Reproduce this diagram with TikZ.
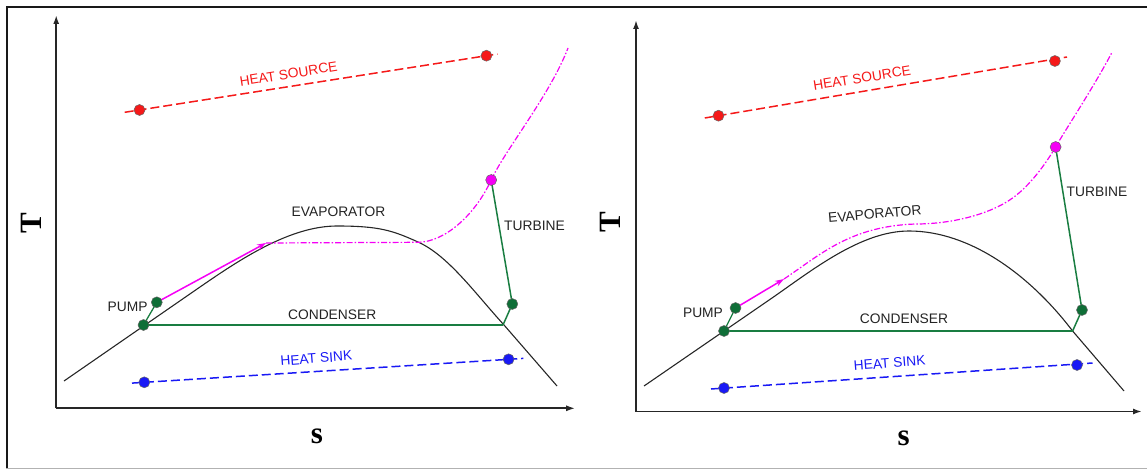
\documentclass[tikz,border=0pt]{standalone}
\usepackage{fontspec}
\setmainfont{Liberation Serif}
\setsansfont{Liberation Sans}
\usetikzlibrary{arrows.meta}
\definecolor{CycleGreen}{RGB}{25,125,65}
\definecolor{DotGreen}{RGB}{15,110,55}
\definecolor{SourceRed}{RGB}{245,25,25}
\definecolor{SinkBlue}{RGB}{25,25,245}
\definecolor{Vapour}{RGB}{245,0,245}
\definecolor{LabelGray}{RGB}{35,35,35}

\begin{document}
\begin{tikzpicture}[
    x=1pt, y=-1pt,
    axis/.style={line width=1.7pt, draw=black!85, -{Latex[length=9pt,width=6pt]}},
    dome/.style={line width=1.1pt, draw=black!85},
    cycle/.style={line width=1.5pt, draw=CycleGreen},
    condenser/.style={line width=2.3pt, draw=CycleGreen},
    vapour/.style={line width=1.2pt, draw=Vapour, dash pattern=on 6pt off 2pt on 1.5pt off 2pt},
    pumped/.style={line width=1.5pt, draw=Vapour, -{Stealth[length=9pt,width=6pt]}},
    source/.style={line width=1.5pt, draw=SourceRed, dash pattern=on 9pt off 4pt},
    sink/.style={line width=1.5pt, draw=SinkBlue, dash pattern=on 9pt off 4pt},
    state/.style={circle, draw=black!60, line width=0.5pt, minimum size=11pt, inner sep=0pt},
    lbl/.style={font=\sffamily\fontsize{13.8}{16}\selectfont, text=LabelGray},
    axlbl/.style={font=\bfseries\fontsize{31}{31}\selectfont}
]
\useasboundingbox (0,0) rectangle (1147,470);

% Frame
\draw[line width=2.6pt, black!90] (7,468) -- (7,7) -- (1147,7);
\draw[line width=1.3pt, black!30] (6,468.5) -- (1147,468.5);

%%% Left panel
\coordinate (Lo) at (56.2,408.3);
\coordinate (Ly) at (56.2,15);
\coordinate (Lx) at (575.2,408.3);
\draw[axis] (Lo) -- (Ly);
\draw[axis] (Lo) -- (Lx);
\node[axlbl, rotate=90] (LT) at (31.4,223.3) {T};
\node[axlbl] (Ls) at (317,436) {s};

% Saturation dome
\draw[dome] (64,381) -- (200,287) .. controls (240,259.4) and (290,226) .. (337,226)
    .. controls (380,226) and (393,230.75) .. (418,242)
    .. controls (448,255.5) and (474,292) .. (504,325) -- (557,386);

% Cycle states
\coordinate (L1) at (143.5,325);
\coordinate (L2) at (156.8,302.3);
\coordinate (L3) at (266,243);
\coordinate (L4) at (418,242.3);
\coordinate (L5) at (491.2,180);
\coordinate (L6) at (512.3,304);
\coordinate (L7) at (503,325);

\draw[vapour] (L3) -- (L4) .. controls (445,242) and (475,215) .. (L5)
    .. controls (505,150) and (550,95) .. (568,48);
\draw[pumped] (L2) -- (L3);
\draw[cycle, line width=1.3pt] (L1) -- (L2);
\draw[cycle] (L5) -- (L6) -- (L7);
\draw[condenser] (L1) -- (L7);

\node[state, fill=DotGreen] (L1dot) at (L1) {};
\node[state, fill=DotGreen] (L2dot) at (L2) {};
\node[state, fill=Vapour] (L5dot) at (L5) {};
\node[state, fill=DotGreen] (L6dot) at (L6) {};

% Heat source and sink
\coordinate (LsrcA) at (124.7,112.3);
\coordinate (LsrcB) at (497.5,54);
\draw[source] (LsrcA) -- (LsrcB);
\node[state, fill=SourceRed] (Lsrc1) at (139.5,110) {};
\node[state, fill=SourceRed] (Lsrc2) at (486.4,55.7) {};
\coordinate (LsnkA) at (132,383.1);
\coordinate (LsnkB) at (523.4,358.4);
\draw[sink] (LsnkA) -- (LsnkB);
\node[state, fill=SinkBlue] (Lsnk1) at (144.3,382.3) {};
\node[state, fill=SinkBlue] (Lsnk2) at (508.6,359.3) {};

% Labels
\node[lbl, text=SourceRed, rotate=9] at (288.5,74) {HEAT SOURCE};
\node[lbl] at (338.5,211.7) {EVAPORATOR};
\node[lbl] at (534.5,225.7) {TURBINE};
\node[lbl] at (127.6,307.3) {PUMP};
\node[lbl] at (332.2,315) {CONDENSER};
\node[lbl, text=SinkBlue, rotate=4.5] at (316.3,358.3) {HEAT SINK};

%%% Right panel
\coordinate (Ro) at (636,411.5);
\coordinate (Ry) at (636,20);
\coordinate (Rx) at (1142,411.5);
\draw[axis] (Ro) -- (Ry);
\draw[axis] (Ro) -- (Rx);
\node[axlbl, rotate=90] (RT) at (610.7,221.7) {T};
\node[axlbl] (Rs) at (903.7,438) {s};

% Saturation dome
\draw[dome] (644,386) -- (770,299.4) .. controls (810,271.9) and (860,231) .. (909,231)
    .. controls (970,231) and (1030,275) .. (1072.6,331) -- (1124,391);

% Cycle states
\coordinate (R1) at (724,331);
\coordinate (R2) at (735.5,308);
\coordinate (R3) at (784,279);
\coordinate (R5) at (1055.6,147);
\coordinate (R6) at (1082,310);
\coordinate (R7) at (1072.6,331);

\draw[vapour] (R3) .. controls (820,255) and (850,226) .. (916,224)
    .. controls (950,224) and (990,215) .. (1014,197)
    .. controls (1030,185) and (1045,165) .. (R5)
    .. controls (1064,132) and (1095,85) .. (1111.6,53);
\draw[pumped] (R2) -- (R3);
\draw[cycle, line width=1.3pt] (R1) -- (R2);
\draw[cycle] (R5) -- (R6) -- (R7);
\draw[condenser] (R1) -- (R7);

\node[state, fill=DotGreen] (R1dot) at (R1) {};
\node[state, fill=DotGreen] (R2dot) at (R2) {};
\node[state, fill=Vapour] (R5dot) at (R5) {};
\node[state, fill=DotGreen] (R6dot) at (R6) {};

% Heat source and sink
\coordinate (RsrcA) at (704.8,118);
\coordinate (RsrcB) at (1067,57);
\draw[source] (RsrcA) -- (RsrcB);
\node[state, fill=SourceRed] (Rsrc1) at (718.5,115.7) {};
\node[state, fill=SourceRed] (Rsrc2) at (1054.9,61) {};
\coordinate (RsnkA) at (711,389);
\coordinate (RsnkB) at (1092.5,363);
\draw[sink] (RsnkA) -- (RsnkB);
\node[state, fill=SinkBlue] (Rsnk1) at (724,388) {};
\node[state, fill=SinkBlue] (Rsnk2) at (1077,365) {};

% Labels
\node[lbl, text=SourceRed, rotate=9] at (862,78) {HEAT SOURCE};
\node[lbl, rotate=5] at (874.8,214) {EVAPORATOR};
\node[lbl] at (1097,191.7) {TURBINE};
\node[lbl] at (703,313) {PUMP};
\node[lbl] at (904,319) {CONDENSER};
\node[lbl, text=SinkBlue, rotate=4.5] at (889.6,363) {HEAT SINK};

\end{tikzpicture}
\end{document}
